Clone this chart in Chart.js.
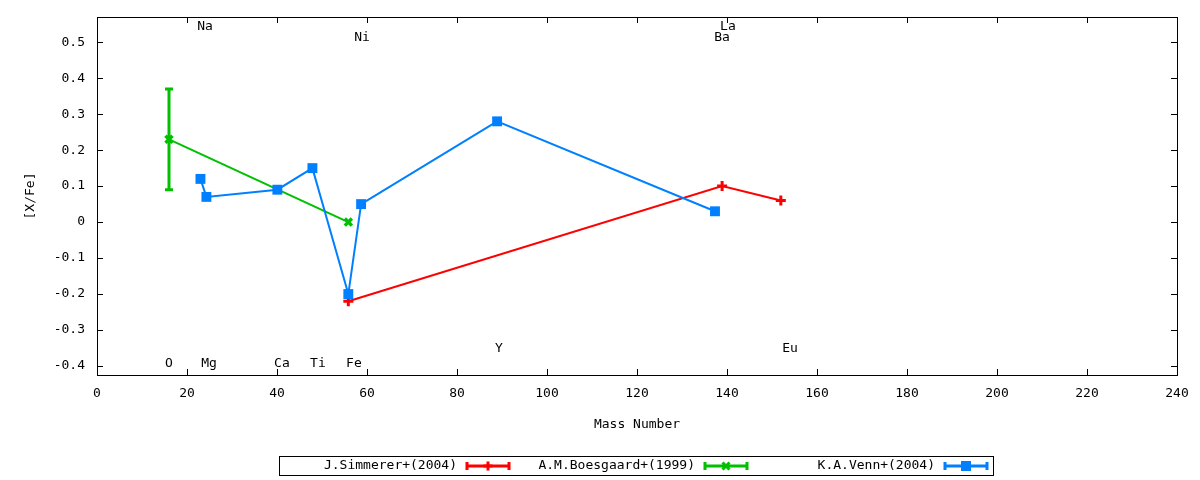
<!DOCTYPE html>
<html>
<head>
<meta charset="utf-8">
<script src="https://cdn.jsdelivr.net/npm/chart.js@4/dist/chart.umd.min.js"></script>
<style>
  html, body { margin: 0; padding: 0; background: #ffffff; }
  #c { display: block; }
</style>
</head>
<body>
<canvas id="c" width="1200" height="480"></canvas>
<script>
// ---- data ----
const seriesLabels = ["J.Simmerer+(2004)", "A.M.Boesgaard+(1999)", "K.A.Venn+(2004)"];
const seriesColors = ["#ff0000", "#00c000", "#0080ff"];

const simmererX = [55.85, 138.91, 151.96];
const simmererY = [-0.22, 0.10, 0.06];

const boesgaardX = [16.00, 55.85];
const boesgaardY = [0.23, 0.00];
const boesgaardErr = [0.14, 0];

const vennX = [22.99, 24.31, 40.08, 47.87, 55.85, 58.69, 88.91, 137.33];
const vennY = [0.12, 0.07, 0.09, 0.15, -0.20, 0.05, 0.28, 0.03];

const elementNames = ["Na", "Ni", "La", "Ba", "O", "Mg", "Ca", "Ti", "Fe", "Y", "Eu"];
const elementLabelX = [24.0, 58.9, 140.2, 138.9, 16.0, 24.9, 41.1, 49.1, 57.1, 89.3, 154.0];
const elementLabelY = [0.542, 0.514, 0.542, 0.514, -0.392, -0.392, -0.392, -0.392, -0.392, -0.353, -0.353];

const xTicks = [0, 20, 40, 60, 80, 100, 120, 140, 160, 180, 200, 220, 240];
const yTicks = [-0.4, -0.3, -0.2, -0.1, 0, 0.1, 0.2, 0.3, 0.4, 0.5];

const FONT = "'DejaVu Sans Mono', 'Liberation Mono', monospace";

function pts(xs, ys) { return xs.map((x, i) => ({ x: x, y: ys[i] })); }

// ---- plugins ----
const framePlugin = {
  id: 'frame',
  beforeDatasetsDraw(chart) {
    const ctx = chart.ctx;
    const xs = chart.scales.x, ys = chart.scales.y;
    ctx.save();
    ctx.strokeStyle = seriesColors[1];
    ctx.lineWidth = 3;
    boesgaardX.forEach((xv, i) => {
      const e = boesgaardErr[i];
      if (!e) return;
      const px = xs.getPixelForValue(xv);
      const pTop = ys.getPixelForValue(boesgaardY[i] + e);
      const pBot = ys.getPixelForValue(boesgaardY[i] - e);
      ctx.beginPath();
      ctx.moveTo(px, pTop); ctx.lineTo(px, pBot);
      ctx.moveTo(px - 4, pTop); ctx.lineTo(px + 4, pTop);
      ctx.moveTo(px - 4, pBot); ctx.lineTo(px + 4, pBot);
      ctx.stroke();
    });
    ctx.restore();
  },
  afterDraw(chart) {
    const ctx = chart.ctx;
    const a = chart.chartArea;
    const xs = chart.scales.x, ys = chart.scales.y;
    ctx.save();
    ctx.strokeStyle = '#000';
    ctx.lineWidth = 1;
    ctx.strokeRect(Math.round(a.left) + 0.5, Math.round(a.top) + 0.5,
                   Math.round(a.right - a.left), Math.round(a.bottom - a.top));
    const tl = 6;
    ctx.beginPath();
    xTicks.forEach(v => {
      const p = Math.round(xs.getPixelForValue(v)) + 0.5;
      ctx.moveTo(p, a.bottom); ctx.lineTo(p, a.bottom - tl);
      ctx.moveTo(p, a.top); ctx.lineTo(p, a.top + tl);
    });
    yTicks.forEach(v => {
      const p = Math.round(ys.getPixelForValue(v)) + 0.5;
      ctx.moveTo(a.left, p); ctx.lineTo(a.left + tl, p);
      ctx.moveTo(a.right, p); ctx.lineTo(a.right - tl, p);
    });
    ctx.stroke();

    // element labels
    ctx.fillStyle = '#000';
    ctx.font = '13px ' + FONT;
    ctx.textAlign = 'center';
    ctx.textBaseline = 'middle';
    elementNames.forEach((n, i) => {
      ctx.fillText(n, xs.getPixelForValue(elementLabelX[i]), ys.getPixelForValue(elementLabelY[i]));
    });

    // legend box
    const bx = 279, by = 456, bw = 714, bh = 19;
    ctx.strokeRect(bx + 0.5, by + 0.5, bw, bh);
    const textRight = [457, 695, 935];
    const cy = by + bh / 2 + 0.5;
    ctx.textAlign = 'right';
    seriesLabels.forEach((lab, i) => {
      ctx.fillStyle = '#000';
      ctx.fillText(lab, textRight[i], cy);
      const s0 = textRight[i] + 10, s1 = textRight[i] + 52, sm = (s0 + s1) / 2;
      const col = seriesColors[i];
      ctx.strokeStyle = col;
      ctx.fillStyle = col;
      ctx.lineWidth = 3;
      ctx.beginPath();
      ctx.moveTo(s0, cy); ctx.lineTo(s1, cy);
      ctx.moveTo(s0, cy - 4); ctx.lineTo(s0, cy + 4);
      ctx.moveTo(s1, cy - 4); ctx.lineTo(s1, cy + 4);
      ctx.stroke();
      if (i === 0) {
        ctx.beginPath();
        ctx.moveTo(sm - 4.5, cy); ctx.lineTo(sm + 4.5, cy);
        ctx.moveTo(sm, cy - 4.5); ctx.lineTo(sm, cy + 4.5);
        ctx.stroke();
      } else if (i === 1) {
        ctx.beginPath();
        ctx.moveTo(sm - 3.5, cy - 3.5); ctx.lineTo(sm + 3.5, cy + 3.5);
        ctx.moveTo(sm + 3.5, cy - 3.5); ctx.lineTo(sm - 3.5, cy + 3.5);
        ctx.stroke();
      } else {
        ctx.fillRect(sm - 5, cy - 5, 10, 10);
      }
      ctx.strokeStyle = '#000';
      ctx.lineWidth = 1;
    });
    ctx.restore();
  }
};

// ---- chart ----
new Chart(document.getElementById('c'), {
  type: 'scatter',
  data: {
    datasets: [
      {
        label: seriesLabels[0],
        data: pts(simmererX, simmererY),
        showLine: true,
        borderColor: seriesColors[0],
        backgroundColor: seriesColors[0],
        borderWidth: 2,
        pointStyle: 'cross',
        pointRadius: 5,
        pointBorderWidth: 3,
        order: 2
      },
      {
        label: seriesLabels[1],
        data: pts(boesgaardX, boesgaardY),
        showLine: true,
        borderColor: seriesColors[1],
        backgroundColor: seriesColors[1],
        borderWidth: 2,
        pointStyle: 'crossRot',
        pointRadius: 5,
        pointBorderWidth: 3.5,
        order: 1
      },
      {
        label: seriesLabels[2],
        data: pts(vennX, vennY),
        showLine: true,
        borderColor: seriesColors[2],
        backgroundColor: seriesColors[2],
        borderWidth: 2,
        pointStyle: 'rect',
        pointRadius: 7,
        pointBorderWidth: 0,
        order: 0
      }
    ]
  },
  options: {
    responsive: false,
    animation: false,
    devicePixelRatio: 1,
    layout: { padding: { left: 0, top: 17, right: 23, bottom: 0 } },
    plugins: { legend: { display: false }, tooltip: { enabled: false } },
    elements: { line: { tension: 0 } },
    scales: {
      x: {
        type: 'linear',
        min: 0, max: 240,
        grid: { display: false, drawTicks: false },
        border: { display: false },
        afterBuildTicks(s) { s.ticks = xTicks.map(v => ({ value: v })); },
        afterFit(s) { s.height = 105; },
        ticks: {
          padding: 11,
          color: '#000',
          font: { family: FONT, size: 13 },
          maxRotation: 0,
          autoSkip: false,
          callback: v => String(v)
        },
        title: {
          display: true,
          text: 'Mass Number',
          color: '#000',
          font: { family: FONT, size: 13 },
          padding: { top: 0, bottom: 48 }
        }
      },
      y: {
        type: 'linear',
        min: -0.425, max: 0.57,
        grid: { display: false, drawTicks: false },
        border: { display: false },
        afterBuildTicks(s) { s.ticks = yTicks.map(v => ({ value: v })); },
        afterFit(s) { s.width = 97; s.paddingTop = 0; s.paddingBottom = 0; },
        ticks: {
          padding: 12,
          color: '#000',
          font: { family: FONT, size: 13 },
          autoSkip: false,
          callback: v => (Math.abs(v) < 1e-9 ? '0' : (Math.round(v * 10) / 10).toFixed(1))
        },
        title: {
          display: true,
          text: '[X/Fe]',
          color: '#000',
          font: { family: FONT, size: 13 },
          padding: { top: 23, bottom: 0 }
        }
      }
    }
  },
  plugins: [framePlugin]
});
</script>
</body>
</html>
